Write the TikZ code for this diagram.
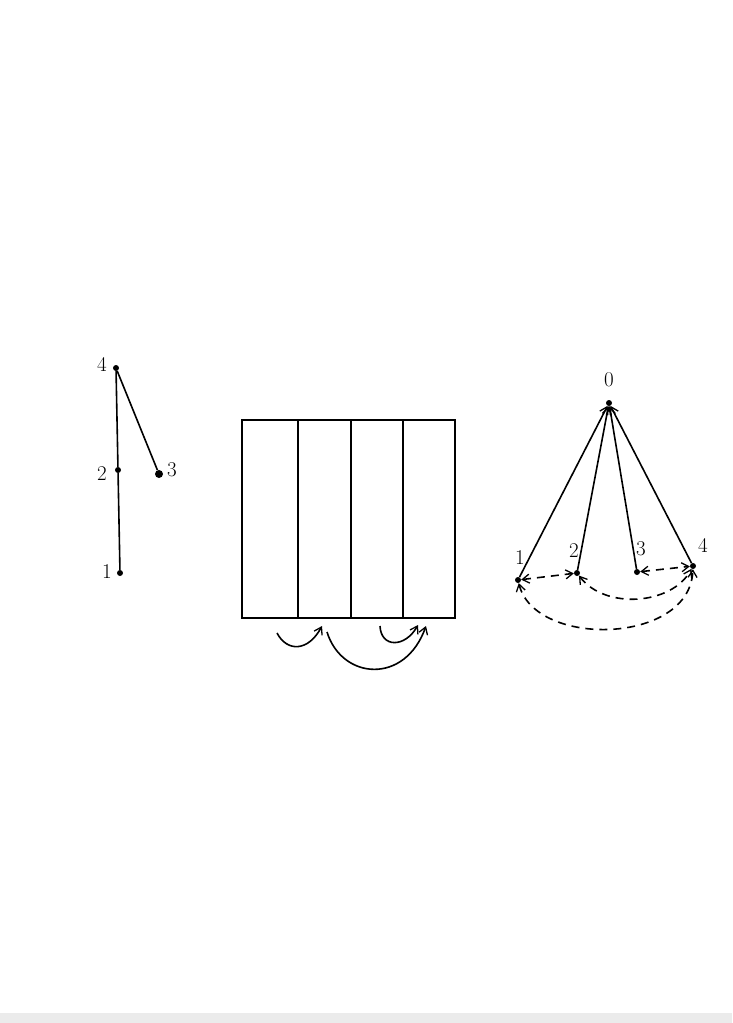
\documentclass[tikz,border=0pt]{standalone}
\usetikzlibrary{arrows.meta}
\begin{document}
\begin{tikzpicture}[x=1pt,y=-1pt,
  dot/.style={circle,fill=black,inner sep=0pt,minimum size=6pt},
  bigdot/.style={circle,fill=black,inner sep=0pt,minimum size=8pt},
  lbl/.style={font=\fontsize{21}{21}\selectfont,inner sep=0pt},
  edge/.style={line width=1.6pt},
  tip/.style={-{Straight Barb[length=7pt,width=9pt,line width=1.3pt]}},
  dtip/.style={{Straight Barb[length=7pt,width=9pt,line width=1.3pt]}-{Straight Barb[length=7pt,width=9pt,line width=1.3pt]}},
  dashline/.style={dash pattern=on 8pt off 6pt}
]
\useasboundingbox (0,0) rectangle (732,1023);
\fill[white] (0,0) rectangle (732,1023);
\fill[black!8] (0,1013) rectangle (732,1023);

% left graph
\node[dot] (a4) at (116,368) {};
\node[dot] (a2) at (118,470) {};
\node[dot] (a1) at (120,573) {};
\node[bigdot] (a3) at (159,474) {};
\node[lbl] (l4) at (102,364) {4};
\node[lbl] (l2) at (102,474) {2};
\node[lbl] (l1) at (107,572) {1};
\node[lbl] (l3) at (172,470) {3};
\draw[edge] (a4) -- (a2) -- (a1);
\draw[edge] (a4) -- (a3);

% rectangle
\draw[edge] (242,420) rectangle (455,618);
\draw[edge] (298,420) -- (298,618);
\draw[edge] (351,420) -- (351,618);
\draw[edge] (403,420) -- (403,618);
\coordinate (p1s) at (277,633);
\coordinate (p1e) at (322,626);
\coordinate (p2s) at (327,632);
\coordinate (p2e) at (426,626);
\coordinate (p3s) at (380,626);
\coordinate (p3e) at (418,625);
\draw[edge,tip] (p1s) .. controls (287,652) and (308,652) .. (p1e);
\draw[edge,tip] (p2s) .. controls (342,680) and (405,685) .. (p2e);
\draw[edge,tip] (p3s) .. controls (381,648) and (405,648) .. (p3e);

% right graph
\node[dot] (b0) at (609,403) {};
\node[dot] (b1) at (518,580) {};
\node[dot] (b2) at (577,573) {};
\node[dot] (b3) at (637,572) {};
\node[dot] (b4) at (693,566) {};
\node[lbl] (k0) at (609,380) {0};
\node[lbl] (k1) at (520,558) {1};
\node[lbl] (k2) at (574,551) {2};
\node[lbl] (k3) at (641,549) {3};
\node[lbl] (k4) at (703,545) {4};
\draw[edge,tip] (b1) -- (b0);
\draw[edge,tip] (b2) -- (b0);
\draw[edge,tip] (b3) -- (b0);
\draw[edge,tip] (b4) -- (b0);
\draw[edge,dashline,dtip] (b1) -- (b2);
\draw[edge,dashline,dtip] (b3) -- (b4);
\draw[edge,dashline,dtip] (b2) .. controls (605,610) and (672,605) .. (b4);
\draw[edge,dashline,dtip] (b1) .. controls (535,648) and (690,645) .. (b4);
\end{tikzpicture}
\end{document}
